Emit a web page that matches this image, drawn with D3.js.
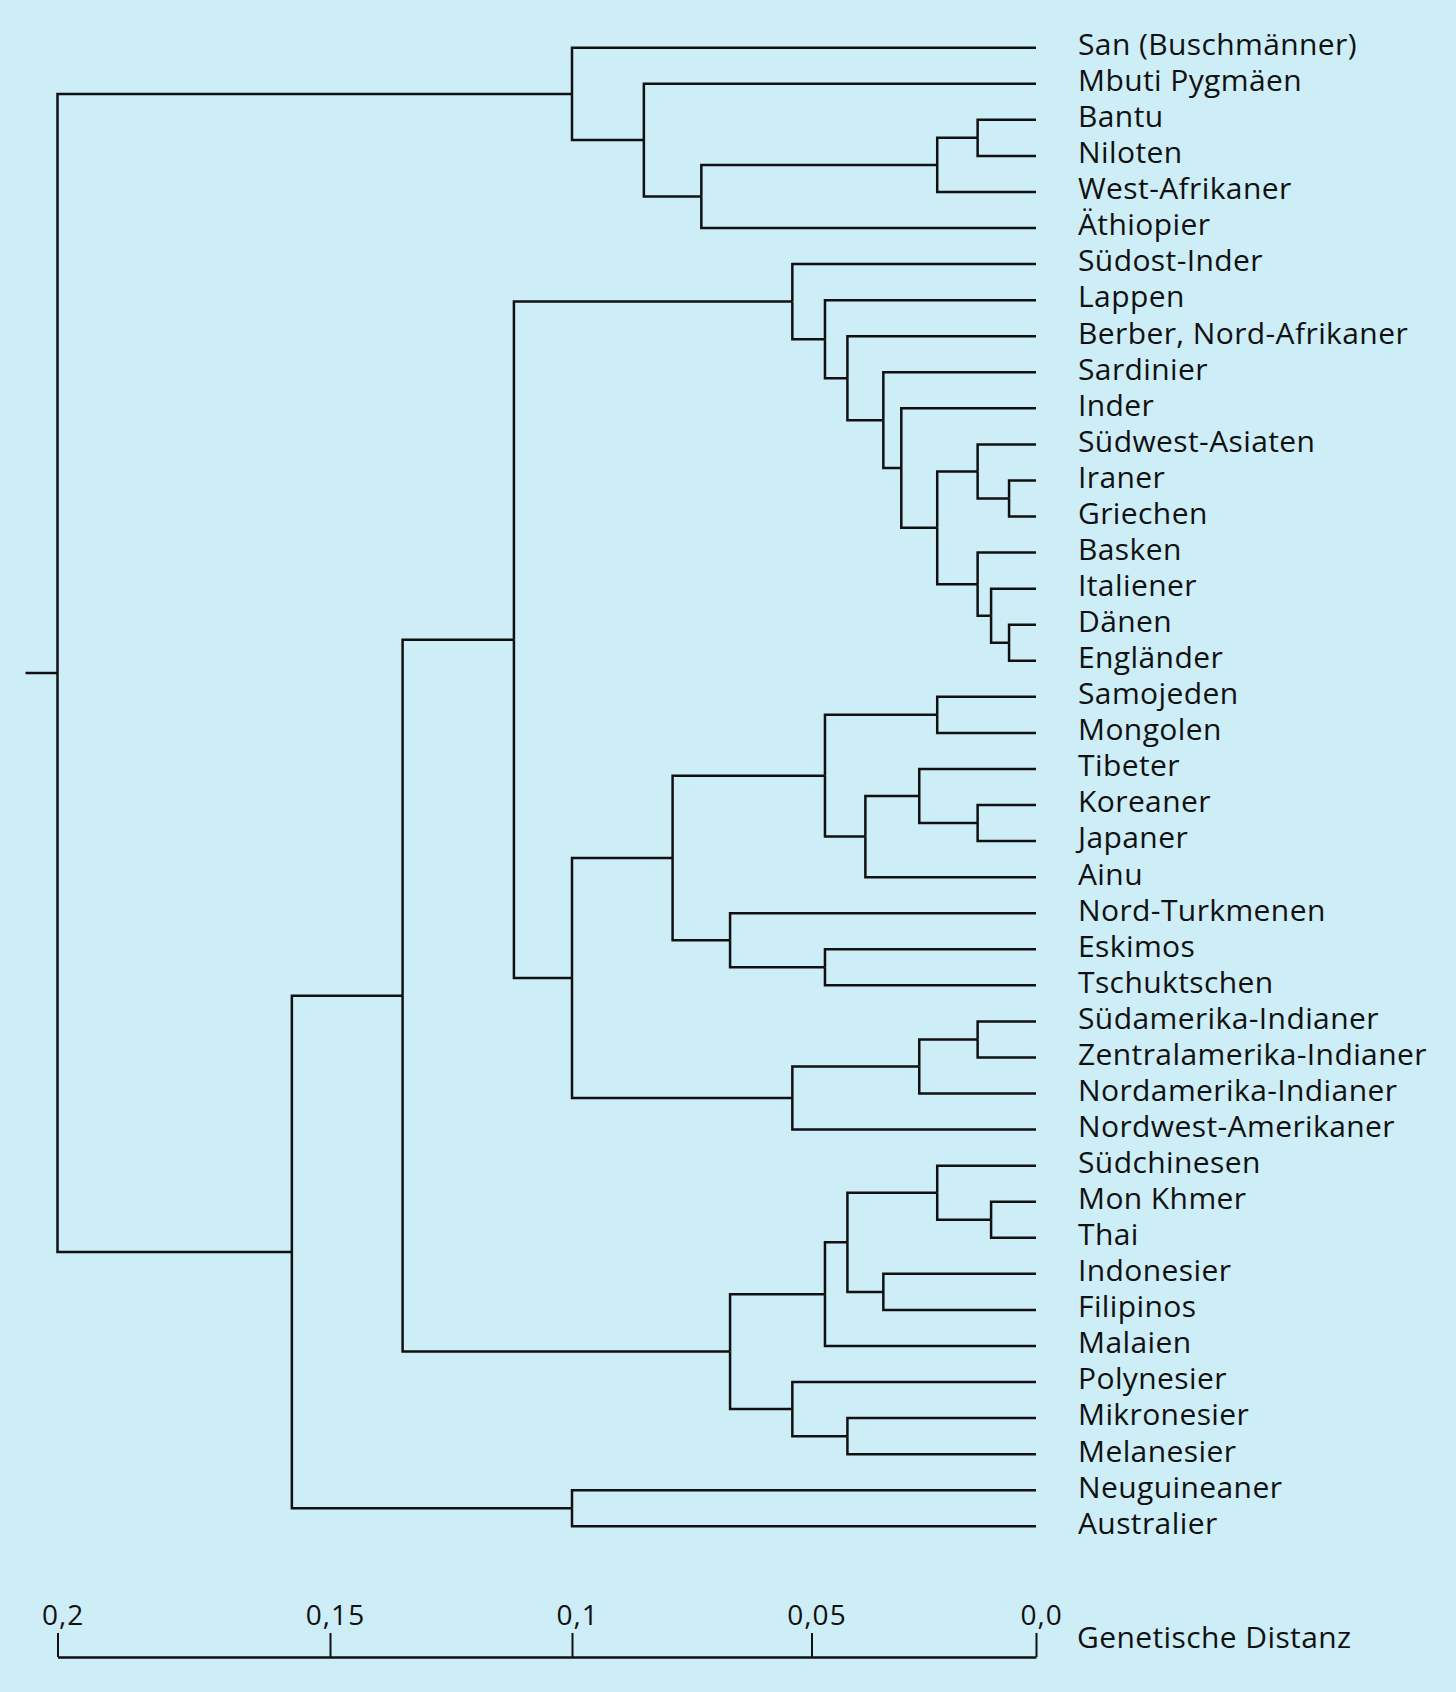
<!DOCTYPE html>
<html lang="de">
<head>
<meta charset="utf-8">
<title>Genetische Distanz</title>
<script src="https://d3js.org/d3.v7.min.js"></script>
<style>
  body { margin: 0; background: #cdedf7; }
  svg { display: block; }
  .link { fill: none; stroke: #111; stroke-width: 2.5px; }
  .leaf { font-family: "Open Sans", sans-serif; font-size: 30px; letter-spacing: 0.4px; fill: #111; }
  .axis text { font-family: "Open Sans", sans-serif; font-size: 28px; letter-spacing: 1px; fill: #111; }
  .axis path, .axis line { stroke: #111; }
</style>
</head>
<body>
<script>
// populations, top to bottom
var populations = [
  "San (Buschmänner)", "Mbuti Pygmäen", "Bantu", "Niloten", "West-Afrikaner", "Äthiopier",
  "Südost-Inder", "Lappen", "Berber, Nord-Afrikaner", "Sardinier", "Inder", "Südwest-Asiaten",
  "Iraner", "Griechen", "Basken", "Italiener", "Dänen", "Engländer",
  "Samojeden", "Mongolen", "Tibeter", "Koreaner", "Japaner", "Ainu",
  "Nord-Turkmenen", "Eskimos", "Tschuktschen",
  "Südamerika-Indianer", "Zentralamerika-Indianer", "Nordamerika-Indianer", "Nordwest-Amerikaner",
  "Südchinesen", "Mon Khmer", "Thai", "Indonesier", "Filipinos", "Malaien",
  "Polynesier", "Mikronesier", "Melanesier", "Neuguineaner", "Australier"
];

// joins: [upper, lower, genetic distance]; "mN" = result of join N
var joins = [
  ["Bantu", "Niloten", 0.013],                       // m0
  ["m0", "West-Afrikaner", 0.022],                   // m1
  ["m1", "Äthiopier", 0.073],                        // m2
  ["Mbuti Pygmäen", "m2", 0.085],                    // m3
  ["San (Buschmänner)", "m3", 0.100],                // m4
  ["Iraner", "Griechen", 0.006],                     // m5
  ["Südwest-Asiaten", "m5", 0.013],                  // m6
  ["Dänen", "Engländer", 0.006],                     // m7
  ["Italiener", "m7", 0.010],                        // m8
  ["Basken", "m8", 0.013],                           // m9
  ["m6", "m9", 0.022],                               // m10
  ["Inder", "m10", 0.030],                           // m11
  ["Sardinier", "m11", 0.034],                       // m12
  ["Berber, Nord-Afrikaner", "m12", 0.042],          // m13
  ["Lappen", "m13", 0.047],                          // m14
  ["Südost-Inder", "m14", 0.054],                    // m15
  ["Samojeden", "Mongolen", 0.022],                  // m16
  ["Koreaner", "Japaner", 0.013],                    // m17
  ["Tibeter", "m17", 0.026],                         // m18
  ["m18", "Ainu", 0.038],                            // m19
  ["m16", "m19", 0.047],                             // m20
  ["Eskimos", "Tschuktschen", 0.047],                // m21
  ["Nord-Turkmenen", "m21", 0.067],                  // m22
  ["m20", "m22", 0.079],                             // m23
  ["Südamerika-Indianer", "Zentralamerika-Indianer", 0.013], // m24
  ["m24", "Nordamerika-Indianer", 0.026],            // m25
  ["m25", "Nordwest-Amerikaner", 0.054],             // m26
  ["m23", "m26", 0.100],                             // m27
  ["m15", "m27", 0.112],                             // m28
  ["Mon Khmer", "Thai", 0.010],                      // m29
  ["Südchinesen", "m29", 0.022],                     // m30
  ["Indonesier", "Filipinos", 0.034],                // m31
  ["m30", "m31", 0.042],                             // m32
  ["m32", "Malaien", 0.047],                         // m33
  ["Mikronesier", "Melanesier", 0.042],              // m34
  ["Polynesier", "m34", 0.054],                      // m35
  ["m33", "m35", 0.067],                             // m36
  ["m28", "m36", 0.135],                             // m37
  ["Neuguineaner", "Australier", 0.100],             // m38
  ["m37", "m38", 0.157],                             // m39
  ["m4", "m39", 0.200]                               // m40
];

var tickValues = [0.2, 0.15, 0.1, 0.05, 0];
var tickLabels = ["0,2", "0,15", "0,1", "0,05", "0,0"];
var axisTitle = "Genetische Distanz";

var width = 1456, height = 1692;

// build the tree from the join list
var nodes = {};
populations.forEach(function(p) { nodes[p] = { name: p, h: 0 }; });
joins.forEach(function(j, i) {
  nodes["m" + i] = { name: "m" + i, h: j[2], children: [nodes[j[0]], nodes[j[1]]] };
});
var root = d3.hierarchy(nodes["m" + (joins.length - 1)]);

// leaves evenly spread, inner nodes at the mean of their children
d3.cluster().size([1, 1]).separation(function() { return 1; })(root);
var leaves = root.leaves();

// the printed axis is not evenly spaced, so map each tick to where it sits
var x = d3.scaleLinear().domain(tickValues).range([57.5, 330, 572, 811.5, 1036]);
var y = d3.scaleLinear()
    .domain([leaves[0].x, leaves[leaves.length - 1].x])
    .range([47.7, 1526.3]);

var svg = d3.select("body").append("svg")
    .attr("width", width)
    .attr("height", height);

svg.append("rect").attr("width", width).attr("height", height).attr("fill", "#cdedf7");

var tree = svg.append("g");

// elbow links: down/up from parent, then across to the child
tree.selectAll(".link")
  .data(root.links())
  .join("path")
    .attr("class", "link")
    .attr("d", function(d) {
      return "M" + x(d.source.data.h) + "," + y(d.source.x) +
             "V" + y(d.target.x) + "H" + x(d.target.data.h);
    });

// short stem on the root
tree.append("path")
    .attr("class", "link")
    .attr("d", "M" + (x(root.data.h) - 32) + "," + y(root.x) + "H" + x(root.data.h));

tree.selectAll(".leaf")
  .data(leaves)
  .join("text")
    .attr("class", "leaf")
    .attr("x", x(0) + 42)
    .attr("y", function(d) { return y(d.x); })
    .attr("dy", "0.245em")
    .text(function(d) { return d.data.name; });

// axis at the bottom, ticks pointing up
var axis = svg.append("g")
    .attr("class", "axis")
    .attr("transform", "translate(0,1657)")
    .call(d3.axisTop(x)
      .tickValues(tickValues)
      .tickFormat(function(d, i) { return tickLabels[i]; })
      .tickSizeInner(24)
      .tickSizeOuter(0)
      .tickPadding(8));

axis.attr("font-size", null).attr("font-family", null);
axis.select(".domain").attr("stroke-width", 2.6);
axis.selectAll(".tick line").attr("stroke-width", 2);
axis.selectAll(".tick text").attr("x", 5);

axis.append("text")
    .attr("x", x(0) + 41)
    .attr("y", -9)
    .attr("text-anchor", "start")
    .style("font-size", "30px")
    .style("letter-spacing", "0.4px")
    .text(axisTitle);
</script>
</body>
</html>
